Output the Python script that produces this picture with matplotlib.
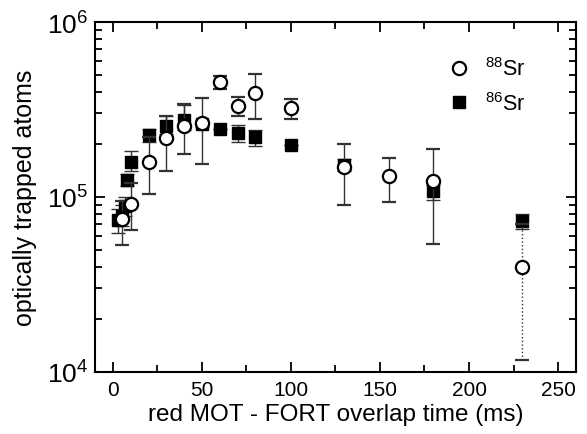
import numpy as np
import matplotlib
matplotlib.use("Agg")
import matplotlib.pyplot as plt
from matplotlib.lines import Line2D
from matplotlib.ticker import LogLocator, NullFormatter

plt.rcParams['font.family'] = ['Liberation Sans', 'DejaVu Sans']
plt.rcParams['mathtext.fontset'] = 'custom'
plt.rcParams['mathtext.rm'] = 'Liberation Sans'
plt.rcParams['mathtext.it'] = 'Liberation Sans:italic'
plt.rcParams['mathtext.bf'] = 'Liberation Sans:bold'

# 88Sr (open circles)
t88 = [5, 10, 20, 30, 40, 50, 60, 70, 80, 100, 130, 155, 180, 230]
n88 = [7.5e4, 9.1e4, 1.58e5, 2.16e5, 2.55e5, 2.64e5, 4.52e5, 3.33e5, 3.93e5,
       3.23e5, 1.48e5, 1.31e5, 1.23e5, 4.0e4]
lo88 = [5.3e4, 6.5e4, 1.04e5, 1.4e5, 1.77e5, 1.55e5, 4.14e5, 2.92e5, 2.78e5,
        2.8e5, 0.9e5, 0.94e5, 0.54e5, 1.17e4]
hi88 = [9.5e4, 1.2e5, 2.2e5, 2.9e5, 3.4e5, 3.69e5, 4.93e5, 3.74e5, 5.05e5,
        3.63e5, 2.02e5, 1.67e5, 1.88e5, 7.0e4]

# 86Sr (filled squares)
t86 = [3, 5, 7, 8, 10, 20, 30, 40, 50, 60, 70, 80, 100, 130, 180, 230]
n86 = [7.4e4, 7.8e4, 8.85e4, 1.25e5, 1.59e5, 2.26e5, 2.55e5, 2.75e5, 2.6e5,
       2.45e5, 2.32e5, 2.19e5, 1.97e5, 1.52e5, 1.08e5, 7.3e4]
lo86 = [6.2e4, 6.8e4, 7.8e4, 1.16e5, 1.4e5, 2.07e5, 2.3e5, 2.4e5, 2.5e5,
        2.45e5, 2.07e5, 1.95e5, 1.97e5, 1.4e5, 0.96e5, 6.56e4]
hi86 = [8.5e4, 9.0e4, 1.0e5, 1.35e5, 1.82e5, 2.44e5, 2.92e5, 3.36e5, 2.7e5,
        2.45e5, 2.59e5, 2.42e5, 1.97e5, 1.65e5, 1.17e5, 7.96e4]

fig = plt.figure(figsize=(5.87, 4.35), dpi=100)
ax = fig.add_axes([0.162, 0.143, 0.819, 0.804])

n88 = np.array(n88)
n86 = np.array(n86)
err88 = [n88 - np.array(lo88), np.array(hi88) - n88]
err86 = [n86 - np.array(lo86), np.array(hi86) - n86]

ebkw = dict(ecolor='#333333', elinewidth=1.0, capsize=5, capthick=1.0)
sq = dict(marker='s', ms=8.5, mfc='black', mec='black')
ci = dict(marker='o', ms=9.5, mfc='white', mec='black', mew=1.6)

# 86Sr squares
ax.errorbar(t86, n86, yerr=err86, ls='none', zorder=3, **sq, **ebkw)

# 88Sr circles, last point with a dotted error bar
ax.errorbar(t88[:-1], n88[:-1], yerr=[err88[0][:-1], err88[1][:-1]], ls='none',
            zorder=4, **ci, **ebkw)
e2 = ax.errorbar(t88[-1:], n88[-1:], yerr=[err88[0][-1:], err88[1][-1:]],
                 ls='none', zorder=4, **ci, **ebkw)
e2[2][0].set_linestyle(':')

ax.set_yscale('log')
ax.set_xlim(-10, 260)
ax.set_ylim(1e4, 1e6)
ax.set_xticks([0, 50, 100, 150, 200, 250])
ax.set_xticks([25, 75, 125, 175, 225], minor=True)
ax.yaxis.set_minor_locator(LogLocator(base=10, subs=np.arange(2, 10), numticks=10))
ax.yaxis.set_minor_formatter(NullFormatter())

ax.tick_params(which='both', direction='in', top=True, right=True, width=1.3)
ax.tick_params(which='major', length=7.5)
ax.tick_params(which='minor', length=5)
ax.tick_params(axis='x', which='major', labelsize=15, pad=6)
ax.tick_params(axis='y', which='major', labelsize=19, pad=5)
for s in ax.spines.values():
    s.set_linewidth(1.5)

ax.set_xlabel('red MOT - FORT overlap time (ms)', fontsize=17.5, labelpad=3)
ax.set_ylabel('optically trapped atoms', fontsize=18, labelpad=7)

handles = [Line2D([], [], ls='none', **ci), Line2D([], [], ls='none', **sq)]
ax.legend(handles, [r'$^{88}$Sr', r'$^{86}$Sr'], loc='upper left', frameon=False,
          fontsize=15.5, bbox_to_anchor=(0.712, 0.93), borderpad=0,
          handletextpad=0.7, labelspacing=0.55, handlelength=1.0)

fig.savefig('out.png', dpi=100)
